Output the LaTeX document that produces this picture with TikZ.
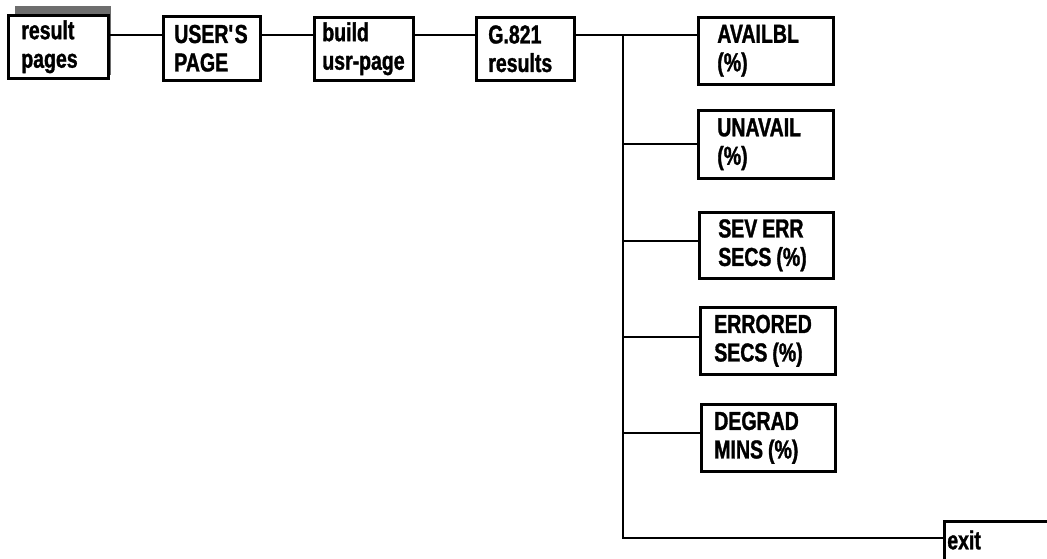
\documentclass[tikz,border=0pt]{standalone}
\usepackage{fontspec}
\setmainfont{Liberation Sans}[FakeStretch=0.75, BoldFeatures={FakeBold=1.2}]
\definecolor{shadegray}{HTML}{6E6E6E}
\newcommand{\gsp}{\hspace{5pt}}
\begin{document}
\begin{tikzpicture}[x=1pt,y=-1pt,
  box/.style={draw, line width=2.6pt, fill=white, anchor=north west, inner ysep=0pt,
    align=left, font=\bfseries\fontsize{26}{28.5}\selectfont},
  conn/.style={line width=2.4pt}]
\useasboundingbox (0,0) rectangle (1047,559);
\clip (0,0) rectangle (1047,559);
% shadow behind first box
\fill[shadegray] (15,6) rectangle (111,75);
\node[box, minimum width=100pt, minimum height=63pt, inner xsep=13pt, text width=74pt] (rp) at (7,14) {result\\pages};
\node[box, minimum width=97pt, minimum height=64pt, inner xsep=11pt, text width=75pt] (up) at (162,15) {USER\textquotesingle S\\PAGE};
\node[box, minimum width=99pt, minimum height=63pt, inner xsep=8pt, text width=83pt] (bu) at (313,16) {\mbox{build}\\\mbox{usr-page}};
\node[box, minimum width=98pt, minimum height=63pt, inner xsep=12pt, text width=74pt] (g8) at (475,16) {G.821\\results};
\node[box, minimum width=135pt, minimum height=67pt, inner xsep=19pt, text width=97pt] (av) at (697,16) {AVAILBL\\(\%)};
\node[box, minimum width=135pt, minimum height=68pt, inner xsep=19pt, text width=97pt] (un) at (697,109) {UNAVAIL\\(\%)};
\node[box, minimum width=134pt, minimum height=66pt, inner xsep=19pt, text width=96pt] (se) at (698,211) {SEV\gsp ERR\\SECS\gsp(\%)};
\node[box, minimum width=135pt, minimum height=67pt, inner xsep=14pt, text width=107pt] (er) at (699,306) {ERRORED\\SECS\gsp(\%)};
\node[box, minimum width=134pt, minimum height=67pt, inner xsep=13pt, text width=108pt] (dg) at (700,403) {DEGRAD\\MINS\gsp(\%)};
\node[box, text depth=40pt, text height=28pt, minimum width=200pt, inner xsep=3pt, text width=194pt] (ex) at (943,520) {exit};
% connectors
\coordinate (row) at (0,35);
\coordinate (tt) at (623,35);
\coordinate (tb) at (623,538);
\coordinate (sein) at ([yshift=-30pt]se.north west);
\coordinate (erin) at ([yshift=-31pt]er.north west);
\coordinate (dgin) at ([yshift=-30pt]dg.north west);
\draw[conn] (rp.east |- row) -- (up.west |- row);
\draw[conn] (up.east |- row) -- (bu.west |- row);
\draw[conn] (bu.east |- row) -- (g8.west |- row);
\draw[conn] (g8.east |- row) -- (av.west |- row);
\draw[conn] (tt) -- (tb) -- (ex.west |- tb);
\draw[conn] (tt |- un.west) -- (un.west);
\draw[conn] (tt |- sein) -- (sein);
\draw[conn] (tt |- erin) -- (erin);
\draw[conn] (tt |- dgin) -- (dgin);
\end{tikzpicture}
\end{document}
